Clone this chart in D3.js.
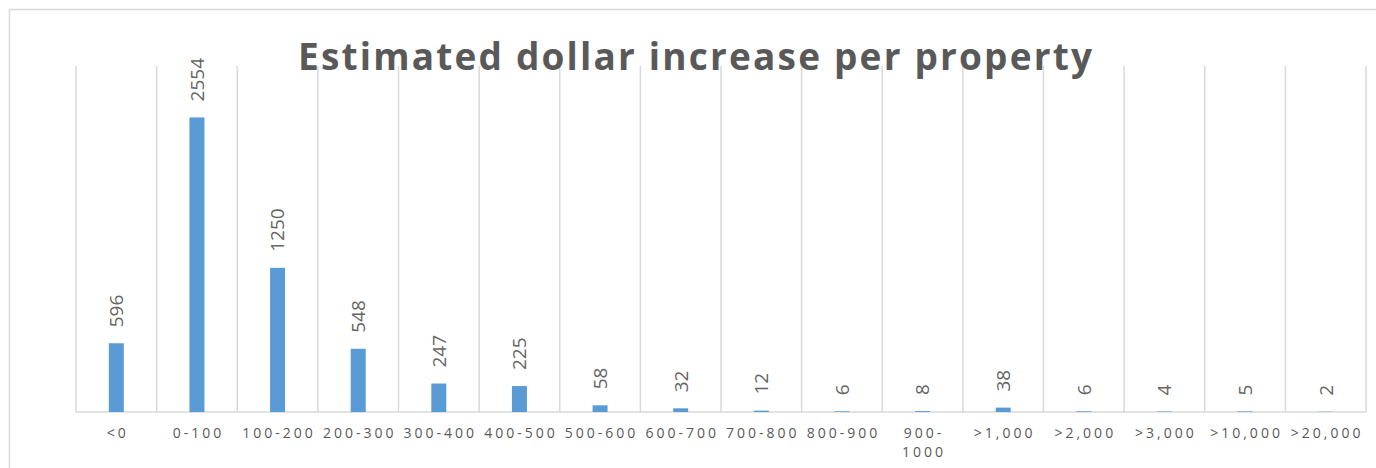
<!DOCTYPE html>
<html>
<head>
<meta charset="utf-8">
<script src="https://cdn.jsdelivr.net/npm/d3@7"></script>
<style>
  body { margin: 0; background: #fff; }
  text { font-family: "Open Sans", "Liberation Sans", sans-serif; fill: #595959; }
</style>
</head>
<body>
<div id="chart"></div>
<script>
var categories = ["<0", "0-100", "100-200", "200-300", "300-400", "400-500", "500-600", "600-700",
                  "700-800", "800-900", "900-1000", ">1,000", ">2,000", ">3,000", ">10,000", ">20,000"];
var counts = [596, 2554, 1250, 548, 247, 225, 58, 32, 12, 6, 8, 38, 6, 4, 5, 2];
var yMax = 3000;
var title = "Estimated dollar increase per property";

var W = 1376, H = 468;
var margin = {top: 66, right: 10, bottom: 56, left: 76},
    width = W - margin.left - margin.right,
    height = H - margin.top - margin.bottom;

var root = d3.select("#chart")
  .append("svg")
    .attr("width", W)
    .attr("height", H);

// chart area border (only top and left edges are in frame)
root.append("path")
  .attr("d", "M9.5," + H + "V9.5H" + W)
  .attr("fill", "none")
  .attr("stroke", "#d9d9d9")
  .attr("stroke-width", 1.5);

var svg = root.append("g")
  .attr("transform", "translate(" + margin.left + "," + margin.top + ")");

var x = d3.scaleBand()
  .domain(categories)
  .range([0, width]);

var y = d3.scaleLinear()
  .domain([0, yMax])
  .range([height, 0]);

// vertical gridlines between categories
var edges = categories.map(function(c) { return x(c); }).concat([width]);
svg.selectAll(".grid")
  .data(edges)
  .enter().append("line")
    .attr("x1", function(d) { return d; })
    .attr("x2", function(d) { return d; })
    .attr("y1", y(yMax))
    .attr("y2", height)
    .attr("stroke", "#d9d9d9")
    .attr("stroke-width", 1.5);

svg.append("line")
  .attr("x1", 0).attr("x2", width)
  .attr("y1", height).attr("y2", height)
  .attr("stroke", "#d9d9d9")
  .attr("stroke-width", 1.5);

var barW = 15;
svg.selectAll(".bar")
  .data(counts)
  .enter().append("rect")
    .attr("x", function(d, i) { return x(categories[i]) + x.bandwidth() / 2 - barW / 2; })
    .attr("y", function(d) { return y(d); })
    .attr("width", barW)
    .attr("height", function(d) { return height - y(d); })
    .attr("fill", "#5b9bd5");

// value labels, rotated
svg.selectAll(".val")
  .data(counts)
  .enter().append("text")
    .attr("transform", function(d, i) {
      var cx = x(categories[i]) + x.bandwidth() / 2;
      return "translate(" + cx + "," + (y(d) - 16) + ") rotate(-90)";
    })
    .attr("dy", "0.36em")
    .style("font-size", "19px")
    .style("fill", "#656565")
    .style("text-anchor", "start")
    .text(function(d) { return d; });

// category labels, long ones wrap after the hyphen
var xAxis = svg.append("g")
  .attr("transform", "translate(0," + height + ")");
xAxis.selectAll("text")
  .data(categories)
  .enter().append("text")
    .attr("x", function(d) { return x(d) + x.bandwidth() / 2 + 1.5; })
    .attr("y", 26)
    .style("font-size", "14px")
    .style("letter-spacing", "3px")
    .style("text-anchor", "middle")
    .each(function(d) {
      var t = d3.select(this);
      if (d.length > 7 && d.indexOf("-") > 0) {
        var k = d.indexOf("-") + 1;
        t.append("tspan").attr("x", t.attr("x")).text(d.slice(0, k));
        t.append("tspan").attr("x", t.attr("x")).attr("dy", 19).text(d.slice(k));
      } else {
        t.text(d);
      }
    });

root.append("text")
  .attr("x", 298)
  .attr("y", 70)
  .attr("textLength", 794)
  .attr("lengthAdjust", "spacing")
  .style("font-size", "37px")
  .style("font-weight", "bold")
  .text(title);
</script>
</body>
</html>
